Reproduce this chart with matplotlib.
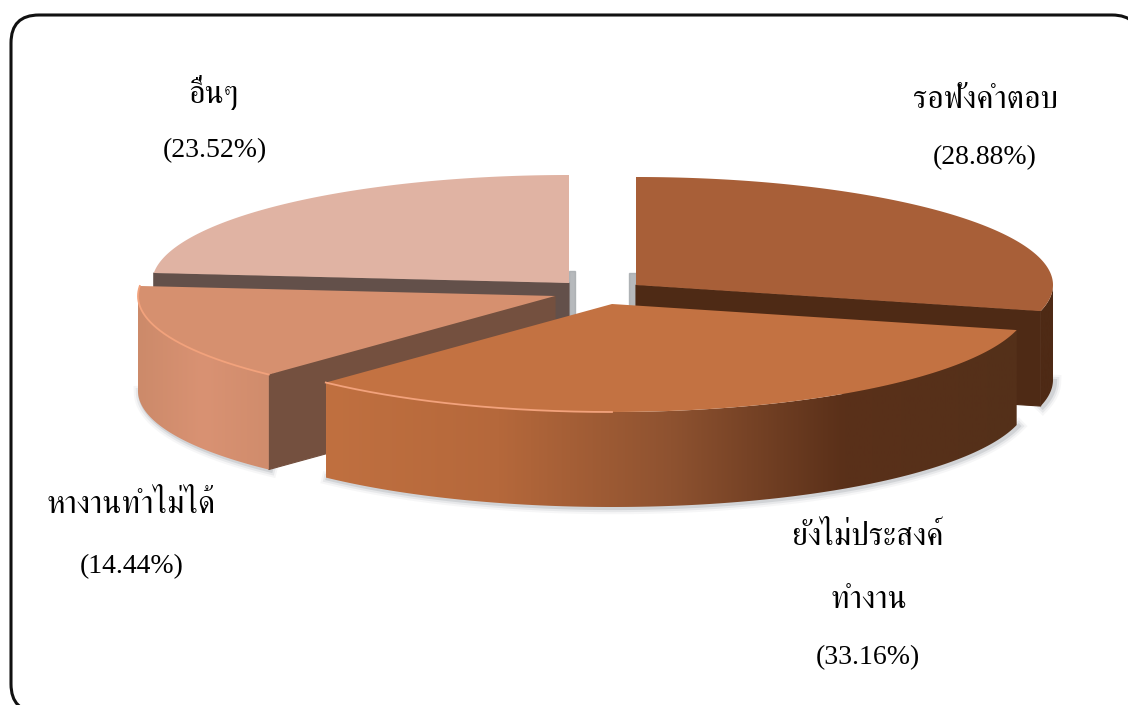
import numpy as np
import matplotlib
matplotlib.use('Agg')
import matplotlib.pyplot as plt
from matplotlib.patches import Polygon, FancyBboxPatch
from matplotlib.colors import LinearSegmentedColormap

labels = ['รอฟังคำตอบ', 'ยังไม่ประสงค์\nทำงาน', 'หางานทำไม่ได้', 'อื่นๆ']
values = [28.88, 33.16, 14.44, 23.52]
top_colors = ['#a85f38', '#c37242', '#d6906f', '#e0b3a3']
side_colors = ['#4e2a15', '#5a3019', '#74503f', '#63504a']
wall_colors = [
    ['#4e2a15', '#4e2a15'],
    ['#c07040', '#b5683b', '#8e5230', '#5a3019', '#54301a'],
    ['#cc8a6a', '#d99273', '#d08c6c'],
    ['#63504a', '#63504a'],
]

# apex of each exploded slice in pixels, drawn back to front
centers = [(636, 285), (612, 304), (555, 296), (569, 283)]
rx, ry, depth = 417, 108, 95
order = [3, 0, 2, 1]

fig = plt.figure(figsize=(11.28, 7.05), dpi=100)
ax = fig.add_axes([0, 0, 1, 1])
ax.axis('off')

# frame runs off the right and bottom of the picture
ax.add_patch(FancyBboxPatch((11 + 30, 15 + 30), 1129 - 60, 697 - 60,
                            boxstyle='round,pad=30,rounding_size=28', fc='white', ec='#111111', lw=2.2))

edges = np.r_[0, np.cumsum(values)] / np.sum(values) * 2 * np.pi


def arc(c, t0, t1):
    t = np.linspace(t0, t1, 200)
    return c[0] + rx * np.sin(t), c[1] - ry * np.cos(t)


def gradient_wall(poly, x0, x1, colors, zorder):
    cmap = LinearSegmentedColormap.from_list('wall', colors)
    g = np.linspace(0, 1, 256)[None, :]
    im = ax.imshow(g, extent=[x0, x1, 600, 0], cmap=cmap, aspect='auto', zorder=zorder)
    p = Polygon(poly, closed=True, transform=ax.transData, fc='none', ec='none', zorder=zorder)
    ax.add_patch(p)
    im.set_clip_path(p)


for z, i in enumerate(order):
    c = centers[i]
    t0, t1 = edges[i], edges[i + 1]
    x, y = arc(c, t0, t1)
    zo = 3 + z
    lo = max(t0, np.pi / 2)
    hi = min(t1, 3 * np.pi / 2)

    # soft shadow along the lower rim
    if hi > lo:
        sx, sy = arc(c, lo, hi)
        for w, a in zip((9, 6, 3), (0.05, 0.09, 0.15)):
            ax.plot(sx + 2, sy + depth + 1, color='#56606a', lw=w, alpha=a, zorder=2)
    if i in (3, 0):
        side = 6 if i == 3 else -7
        ax.fill([c[0], c[0] + side, c[0] + side, c[0]], [c[1] - 12, c[1] - 12, c[1] + 34, c[1] + 34],
                color='#a4a8ac', alpha=0.8, zorder=2)

    # flat cut wall that faces the viewer
    if i != 1:
        t_cut = t1 if i == 0 else t0
        cut = (c[0] + rx * np.sin(t_cut), c[1] - ry * np.cos(t_cut))
        ax.add_patch(Polygon([c, cut, (cut[0], cut[1] + depth), (c[0], c[1] + depth)],
                             closed=True, fc=side_colors[i], ec=side_colors[i], lw=0.8, zorder=zo))

    # curved outer wall, only the part turned to the viewer
    if hi > lo:
        wx, wy = arc(c, lo, hi)
        poly = np.c_[np.r_[wx, wx[::-1]], np.r_[wy, wy[::-1] + depth]]
        gradient_wall(poly, wx.min(), wx.max(), wall_colors[i], zo + 0.1)

    # top face
    ax.add_patch(Polygon(np.c_[np.r_[c[0], x], np.r_[c[1], y]], closed=True,
                         fc=top_colors[i], ec='none', zorder=zo + 0.2))
    if i in (1, 2):
        hx, hy = arc(c, max(lo, np.pi), t1)
        ax.plot(hx, hy, color='#f2a27c', lw=1.3, zorder=zo + 0.3)

ax.set_xlim(0, 1128)
ax.set_ylim(705, 0)

kw = dict(ha='center', va='center', color='black', zorder=20)
thai = dict(fontsize=23, family=['FreeSerif', 'DejaVu Sans'], **kw)
nums = dict(fontsize=20, family=['Liberation Serif', 'DejaVu Sans'], **kw)
ax.text(985, 100, labels[0], **thai)
ax.text(985, 158, '(%.2f%%)' % values[0], **nums)
ax.text(868, 537, labels[1].split('\n')[0], **thai)
ax.text(869, 600, labels[1].split('\n')[1], **thai)
ax.text(868, 658, '(%.2f%%)' % values[1], **nums)
ax.text(131, 505, labels[2], **thai)
ax.text(132, 567, '(%.2f%%)' % values[2], **nums)
ax.text(213, 93, labels[3], **thai)
ax.text(215, 151, '(%.2f%%)' % values[3], **nums)

fig.savefig('out.png', dpi=100)
